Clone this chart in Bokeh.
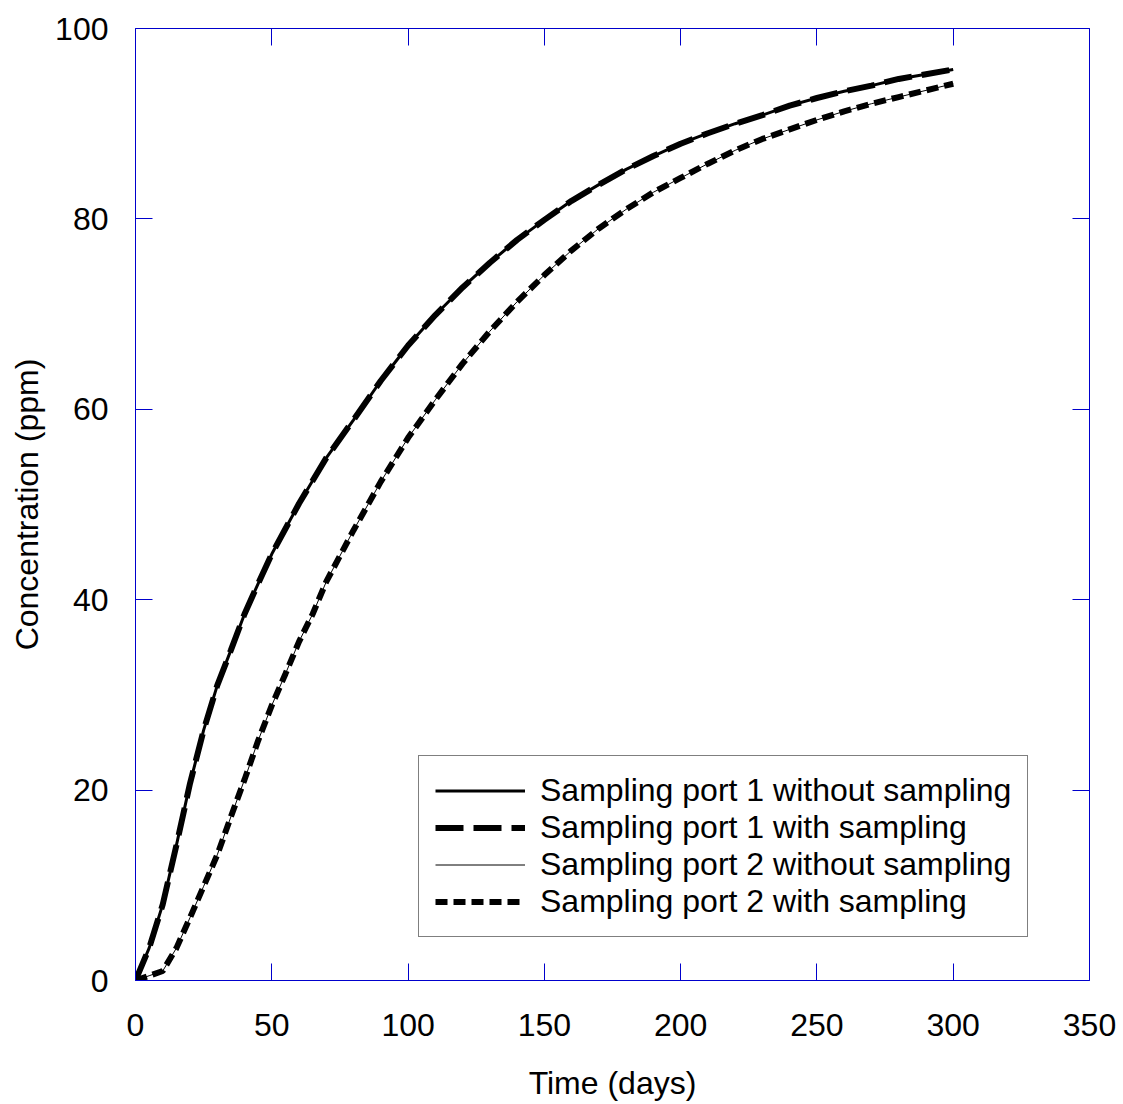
from bokeh.plotting import figure
from bokeh.models import LinearAxis, FixedTicker, Legend, LegendItem, Range1d
from bokeh.embed import file_html
from bokeh.resources import INLINE

# Time points (days)
t_port1 = [0, 5, 10, 15, 20, 25, 30, 35, 40, 45, 50, 60, 70, 80, 90, 100,
           110, 120, 130, 140, 150, 160, 170, 180, 190, 200, 210, 220, 230,
           240, 250, 260, 270, 280, 290, 300]
t_port2 = [0, 5, 10, 15, 20, 25, 30, 35, 40, 45, 50, 55, 60, 65, 70, 80, 90,
           100, 110, 120, 130, 140, 150, 160, 170, 180, 190, 200, 210, 220,
           230, 240, 250, 260, 270, 280, 290, 300]

# Concentration (ppm)
port1_without = [0, 3.4, 8.0, 14.2, 20.7, 26.3, 31.0, 34.7, 38.5, 41.7, 44.8,
                 50.1, 54.9, 58.9, 63.0, 66.7, 69.9, 72.8, 75.4, 77.8, 79.9,
                 81.9, 83.6, 85.2, 86.6, 87.9, 89.0, 90.0, 90.9, 91.9, 92.7,
                 93.4, 94.0, 94.7, 95.2, 95.7]
port1_with = [0, 3.4, 8.0, 14.2, 20.7, 26.3, 31.0, 34.7, 38.5, 41.7, 44.8,
              50.1, 54.9, 58.9, 63.0, 66.7, 69.9, 72.8, 75.4, 77.8, 79.9,
              81.9, 83.6, 85.2, 86.6, 87.9, 89.0, 90.0, 90.9, 91.9, 92.7,
              93.4, 94.0, 94.7, 95.2, 95.7]
port2_without = [0, 0.5, 1.0, 3.4, 6.6, 9.9, 13.2, 17.2, 21.1, 25.2, 28.9,
                 32.2, 35.6, 38.5, 41.9, 47.3, 52.4, 57.0, 61.0, 64.8, 68.2,
                 71.3, 74.1, 76.7, 79.0, 81.0, 82.8, 84.3, 85.8, 87.2, 88.4,
                 89.4, 90.4, 91.3, 92.1, 92.8, 93.5, 94.2]
port2_with = [0, 0.5, 1.0, 3.4, 6.6, 9.9, 13.2, 17.2, 21.1, 25.2, 28.9,
              32.2, 35.6, 38.5, 41.9, 47.3, 52.4, 57.0, 61.0, 64.8, 68.2,
              71.3, 74.1, 76.7, 79.0, 81.0, 82.8, 84.3, 85.8, 87.2, 88.4,
              89.4, 90.4, 91.3, 92.1, 92.8, 93.5, 94.2]

x_ticks = [0, 50, 100, 150, 200, 250, 300, 350]
y_ticks = [0, 20, 40, 60, 80, 100]

FONT = "Liberation Sans"
FS = "32px"
AXIS_BLUE = "#0000CC"

p = figure(width=1123, height=1104, output_backend="svg", toolbar_location=None,
           x_range=Range1d(0, 350), y_range=Range1d(0, 100),
           min_border_left=135, min_border_right=34, min_border_top=28,
           min_border_bottom=124, x_axis_location=None, y_axis_location=None)
p.grid.visible = False
p.outline_line_color = None
p.background_fill_color = "white"
p.border_fill_color = "white"


def style_axis(ax, ticks, labelled):
    ax.ticker = FixedTicker(ticks=ticks)
    ax.axis_line_color = AXIS_BLUE
    ax.axis_line_width = 1
    ax.major_tick_line_color = AXIS_BLUE
    ax.major_tick_in = 17
    ax.major_tick_out = 0
    ax.minor_tick_line_color = None
    ax.major_label_text_font = FONT
    ax.axis_label_text_font = FONT
    ax.axis_label_text_font_style = "normal"
    ax.axis_label_text_color = "black"
    if labelled:
        ax.major_label_text_color = "black"
        ax.major_label_text_font_size = FS
        ax.axis_label_text_font_size = FS
    else:
        # frame side: ticks only, no tick labels painted
        ax.major_label_text_color = None
        ax.major_label_text_font_size = "1px"
        ax.major_label_standoff = 0


xb = LinearAxis(axis_label="Time (days)")
style_axis(xb, x_ticks, True)
xb.major_label_standoff = 33
xb.axis_label_standoff = 26
p.add_layout(xb, "below")

yl = LinearAxis(axis_label="Concentration (ppm)")
style_axis(yl, y_ticks, True)
yl.major_label_standoff = 27
yl.axis_label_standoff = 7
p.add_layout(yl, "left")

xt = LinearAxis()
style_axis(xt, x_ticks, False)
p.add_layout(xt, "above")

yr = LinearAxis()
style_axis(yr, y_ticks, False)
p.add_layout(yr, "right")

r1 = p.line(t_port1, port1_without, line_color="black", line_width=3)
r2 = p.line(t_port1, port1_with, line_color="black", line_width=6,
            line_dash="28 10")
r3 = p.line(t_port2, port2_without, line_color="black", line_width=1)
r4 = p.line(t_port2, port2_with, line_color="black", line_width=6,
            line_dash="12 6")

legend = Legend(items=[
    LegendItem(label="Sampling port 1 without sampling", renderers=[r1]),
    LegendItem(label="Sampling port 1 with sampling", renderers=[r2]),
    LegendItem(label="Sampling port 2 without sampling", renderers=[r3]),
    LegendItem(label="Sampling port 2 with sampling", renderers=[r4]),
], location=(283, 43))
legend.label_text_font = FONT
legend.label_text_font_size = FS
legend.label_text_color = "black"
legend.glyph_width = 90
legend.glyph_height = 37
legend.label_height = 37
legend.label_standoff = 15
legend.spacing = 0
legend.padding = 16
legend.margin = 0
legend.border_line_color = "black"
legend.border_line_width = 1
legend.background_fill_color = "white"
legend.background_fill_alpha = 1
p.add_layout(legend, "center")

open("out.html", "w").write(file_html(p, INLINE))
